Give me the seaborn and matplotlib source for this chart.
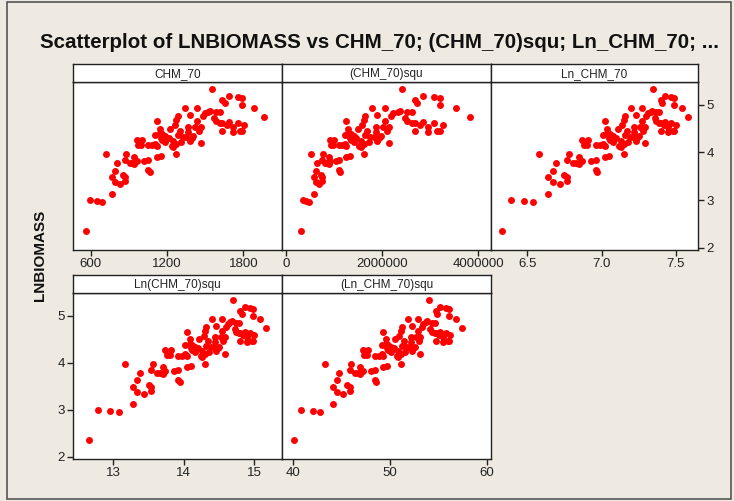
import numpy as np
import pandas as pd
import matplotlib
matplotlib.use("Agg")
import matplotlib.pyplot as plt
from matplotlib.patches import Rectangle
import seaborn as sns

# Values (x) and the shared y axis
ln_chm70 = [6.33, 6.39, 6.48, 6.54, 6.58, 6.64, 6.64, 6.67, 6.67, 6.69,
            6.72, 6.75, 6.77, 6.77, 6.77, 6.78, 6.81, 6.83, 6.85, 6.85,
            6.87, 6.87, 6.91, 6.90, 6.93, 6.96, 6.96, 6.96, 6.97, 6.99,
            7.01, 7.02, 7.02, 7.02, 7.01, 7.04, 7.04, 7.05, 7.05, 7.06,
            7.08, 7.10, 7.11, 7.12, 7.13, 7.13, 7.14, 7.15, 7.15, 7.15,
            7.16, 7.16, 7.17, 7.18, 7.19, 7.20, 7.21, 7.22, 7.23, 7.23,
            7.24, 7.25, 7.27, 7.27, 7.28, 7.29, 7.29, 7.30, 7.31, 7.33,
            7.34, 7.35, 7.36, 7.37, 7.37, 7.39, 7.39, 7.40, 7.40, 7.40,
            7.41, 7.42, 7.43, 7.43, 7.45, 7.45, 7.47, 7.47, 7.48, 7.49,
            7.49, 7.50, 7.49, 7.54, 7.58, 7.06, 7.22, 7.26, 7.08, 6.88]
lnbiomass = [2.35, 3.00, 2.98, 2.95, 3.97, 3.12, 3.48, 3.62, 3.37, 3.78,
             3.33, 3.52, 3.48, 3.39, 3.85, 3.97, 3.78, 3.77, 3.75, 3.90,
             4.27, 3.83, 4.27, 4.16, 3.83, 3.85, 4.15, 3.64, 3.59, 4.15,
             4.18, 4.14, 4.66, 3.90, 4.37, 4.50, 4.40, 3.93, 4.31, 4.27,
             4.22, 4.31, 4.50, 4.13, 4.25, 4.11, 4.57, 4.68, 3.97, 4.18,
             4.36, 4.76, 4.46, 4.22, 4.33, 4.93, 4.33, 4.54, 4.24, 4.78,
             4.31, 4.34, 4.93, 4.67, 4.46, 4.19, 4.54, 4.76, 4.83, 4.86,
             4.88, 5.33, 4.72, 4.66, 4.84, 4.85, 4.62, 5.10, 4.46, 4.62,
             5.03, 4.58, 5.18, 4.65, 4.43, 4.54, 5.17, 4.62, 4.46, 5.15,
             5.00, 4.58, 4.46, 4.93, 4.74, 4.38, 4.43, 4.54, 4.34, 4.16]

panel_titles = ["CHM_70", "(CHM_70)squ", "Ln_CHM_70", "Ln(CHM_70)squ", "(Ln_CHM_70)squ"]
x_ticks = [[600, 1200, 1800], [0, 2000000, 4000000], [6.5, 7.0, 7.5], [13, 14, 15], [40, 50, 60]]
x_ticklabels = [["600", "1200", "1800"], ["0", "2000000", "4000000"], ["6.5", "7.0", "7.5"],
                ["13", "14", "15"], ["40", "50", "60"]]
y_ticks = [2, 3, 4, 5]
title = "Scatterplot of LNBIOMASS vs CHM_70; (CHM_70)squ; Ln_CHM_70; ..."
y_label = "LNBIOMASS"

ln_x = np.array(ln_chm70)
chm70 = np.exp(ln_x)
df = pd.DataFrame({
    "CHM_70": chm70,
    "(CHM_70)squ": chm70 ** 2,
    "Ln_CHM_70": ln_x,
    "Ln(CHM_70)squ": np.log(chm70 ** 2),
    "(Ln_CHM_70)squ": ln_x ** 2,
    "LNBIOMASS": lnbiomass,
})

sns.set_style("white")
plt.rcParams["font.family"] = ["Liberation Sans", "DejaVu Sans"]

W, H = 734, 501
bg = "#EEEAE1"
fig = plt.figure(figsize=(W / 100, H / 100), dpi=100, facecolor=bg)

x_lims = [(461, 2104), (-77000, 4264000), (6.255, 7.65), (12.43, 15.39), (38.83, 60.45)]
lefts = [73, 282, 491, 73, 282]
widths = [209, 209, 207, 209, 209]
plot_top = [82, 82, 82, 293, 293]
plot_bot = [250, 250, 250, 459, 459]
strip_h = 18

for i, name in enumerate(panel_titles):
    l = lefts[i] / W
    w = widths[i] / W
    b = (H - plot_bot[i]) / H
    h = (plot_bot[i] - plot_top[i]) / H
    ax = fig.add_axes([l, b, w, h])
    ax.set_facecolor("white")
    sns.scatterplot(data=df, x=name, y="LNBIOMASS", ax=ax, color="#FF0000",
                    s=25, linewidth=0, legend=False)
    ax.set_xlim(*x_lims[i])
    ax.set_ylim(1.95, 5.48)
    ax.set_xticks(x_ticks[i])
    ax.set_xticklabels(x_ticklabels[i])
    ax.set_xlabel("")
    ax.set_ylabel("")
    ax.set_yticks(y_ticks)
    for sp in ax.spines.values():
        sp.set_color("#222222")
        sp.set_linewidth(1.0)
    ax.tick_params(axis="x", direction="out", length=4, width=1, color="#222222",
                   labelsize=9.5, labelcolor="#222222", pad=2, bottom=True)
    if i == 2:
        ax.yaxis.tick_right()
        ax.tick_params(axis="y", direction="out", length=4, width=1, color="#222222",
                       labelsize=9.5, labelcolor="#222222", pad=2, right=True, left=False)
    elif i == 3:
        ax.tick_params(axis="y", direction="out", length=4, width=1, color="#222222",
                       labelsize=9.5, labelcolor="#222222", pad=2, left=True)
    else:
        ax.tick_params(axis="y", left=False, right=False, labelleft=False, labelright=False)

    sax = fig.add_axes([l, (H - plot_top[i]) / H, w, strip_h / H])
    sax.set_facecolor("white")
    sax.set_xticks([])
    sax.set_yticks([])
    for sp in sax.spines.values():
        sp.set_color("#222222")
        sp.set_linewidth(1.0)
    sax.text(0.5, 0.45, name, ha="center", va="center", fontsize=8.5, color="#222222",
             transform=sax.transAxes)

fig.text(380 / W, 1 - 43 / H, title, ha="center", va="center", fontsize=14.8,
         fontweight="bold", color="#111111")
fig.text(40 / W, 1 - 255 / H, y_label, ha="center", va="center", rotation=90,
         fontsize=11, fontweight="bold", color="#111111")

fig.patches.append(Rectangle((7 / W, 2 / H), 724 / W, 497 / H, transform=fig.transFigure,
                             fill=False, edgecolor="#555555", linewidth=1.2))

fig.savefig("out.png", dpi=100, facecolor=bg)
